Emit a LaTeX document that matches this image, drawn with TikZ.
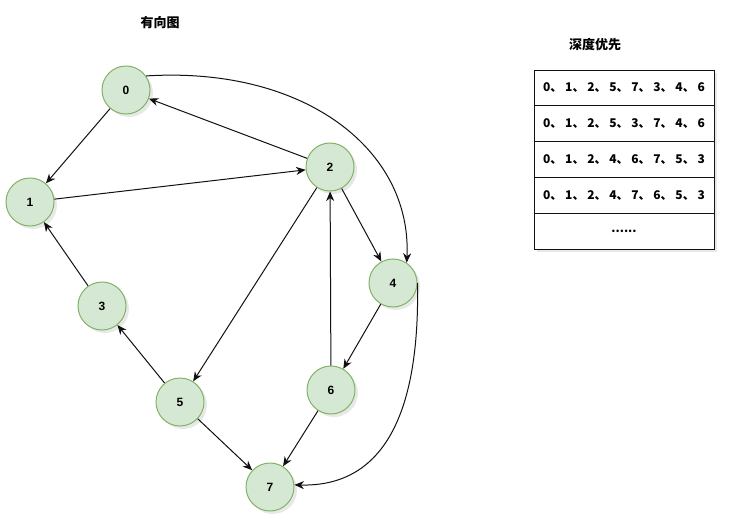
\documentclass[tikz,border=0pt]{standalone}
\usepackage{fontspec}
\setmainfont{Liberation Sans}
\newfontfamily\cjk{Noto Sans CJK SC}
\usetikzlibrary{positioning, arrows.meta, shadows}

\begin{document}
\begin{tikzpicture}[
    x=1pt, y=-1pt,
    font=\fontsize{12}{14}\selectfont\bfseries,
    >={Stealth[length=9.5pt,width=8pt,inset=3pt]},
    node distance=0pt,
]
% ── Colours ──
\definecolor{vfill}{HTML}{D5E8D4}
\definecolor{vline}{HTML}{82B366}
\definecolor{edge}{HTML}{111111}

% ── Styles ──
\tikzset{
    soft/.style={drop shadow={opacity=0.18, shadow xshift=3pt, shadow yshift=-3pt}},
    vertex/.style={
        circle, draw=vline, fill=vfill, line width=1pt,
        minimum size=48pt, inner sep=0pt, soft,
    },
    flow/.style={->, line width=1pt, draw=edge},
    cell/.style={
        draw=edge, fill=white, line width=1pt, outer sep=0pt,
        minimum width=180pt, minimum height=35.8pt, inner sep=0pt,
        font=\cjk\fontsize{12}{14}\selectfont\bfseries, soft,
    },
    caption/.style={font=\cjk\fontsize{13}{15}\selectfont\bfseries},
}

\useasboundingbox (0,0) rectangle (733,529);

% ── Titles ──
\node[caption] (gtitle) at (160,23) {有向图};
\node[caption] (ttitle) at (595,45) {深度优先};

% ── Vertices ──
\node[vertex] (n0) at (126,90)  {0};
\node[vertex] (n1) at (30,202)  {1};
\node[vertex] (n2) at (330,167) {2};
\node[vertex] (n3) at (102,306) {3};
\node[vertex] (n4) at (393,283) {4};
\node[vertex] (n5) at (180,402) {5};
\node[vertex] (n6) at (331,390) {6};
\node[vertex] (n7) at (270,487) {7};

% ── Edges ──
\draw[flow] (n0) -- (n1);
\draw[flow] (n2) -- (n0);
\draw[flow] (n1) -- (n2);
\draw[flow] (n2) -- (n4);
\draw[flow] (n2) -- (n5);
\draw[flow] (n3) -- (n1);
\draw[flow] (n5) -- (n3);
\draw[flow] (n4) -- (n6);
\draw[flow] (n6) -- (n2);
\draw[flow] (n5) -- (n7);
\draw[flow] (n6) -- (n7);
\draw[flow] (n0.35) .. controls (305,66) and (412,150) .. (n4.56);
\draw[flow] (n4.east) .. controls (420,420) and (380,487) .. (n7.5);

% ── Traversal orders ──
\node[cell] (r1) at (624,88) {0、 1、 2、 5、 7、 3、 4、 6};
\node[cell, below=of r1] (r2) {0、 1、 2、 5、 3、 7、 4、 6};
\node[cell, below=of r2] (r3) {0、 1、 2、 4、 6、 7、 5、 3};
\node[cell, below=of r3] (r4) {0、 1、 2、 4、 7、 6、 5、 3};
\node[cell, below=of r4] (r5) {......};

\end{tikzpicture}
\end{document}
